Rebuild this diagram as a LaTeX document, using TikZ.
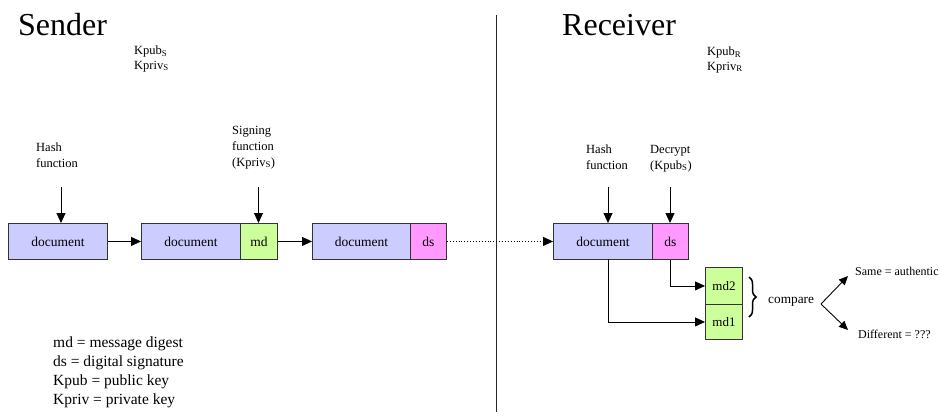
\documentclass[tikz,border=0pt]{standalone}
\usepackage{fontspec}
\setmainfont{Liberation Serif}
\usetikzlibrary{arrows.meta,decorations.pathreplacing}
\definecolor{docblue}{RGB}{204,204,255}
\definecolor{mdgreen}{RGB}{204,255,153}
\definecolor{dspink}{RGB}{255,153,255}
\begin{document}
\begin{tikzpicture}[x=1pt,y=-1pt,
 box/.style={draw=black!80, line width=0.9pt, minimum height=36pt, inner sep=0pt, anchor=north west, font=\fontsize{13.5}{15}\selectfont},
 docbox/.style={box, fill=docblue, minimum width=99pt},
 mdbox/.style={box, fill=mdgreen, minimum width=37pt},
 dsbox/.style={box, fill=dspink, minimum width=36pt},
 arr/.style={line width=0.9pt, -{Triangle[length=10pt,width=9pt]}},
 thinarr/.style={line width=0.9pt, -{Triangle[length=9pt,width=8pt]}},
 lbl/.style={align=left, anchor=base west, inner sep=0pt, font=\fontsize{12.5}{16}\selectfont},
 keys/.style={align=left, anchor=base west, inner sep=0pt, font=\fontsize{12.5}{14.5}\selectfont},
 title/.style={anchor=base west, inner sep=0pt, font=\fontsize{32}{36}\selectfont},
]
\useasboundingbox (0,0) rectangle (940,418);
% titles
\node[title] (sender) at (18,35) {Sender};
\node[title] (receiver) at (562,35) {Receiver};
\node[keys] (keysS) at (134,69) {Kpub\textsubscript{S}\\Kpriv\textsubscript{S}};
\node[keys] (keysR) at (707,70) {Kpub\textsubscript{R}\\Kpriv\textsubscript{R}};
% divider
\coordinate (divtop) at (496,15);
\coordinate (divbot) at (496,412);
\draw[line width=1pt, black!85] (divtop) -- (divbot);
% sender boxes
\node[docbox] (doc1) at (8,223) {document};
\node[docbox] (doc2) at (141,223) {document};
\node[mdbox, minimum width=37pt] (md) at (240,223) {md};
\node[docbox, minimum width=98pt] (doc3) at (312,223) {document};
\node[dsbox] (ds3) at (410,223) {ds};
% receiver boxes
\node[docbox] (doc4) at (553,223) {document};
\node[dsbox] (ds4) at (652,223) {ds};
\node[mdbox, minimum height=37pt, font=\fontsize{13}{15}\selectfont] (md2) at (705,267) {md2};
\node[mdbox, minimum height=35pt, font=\fontsize{13}{15}\selectfont] (md1) at (705,304) {md1};
% labels
\node[lbl] (hash1) at (36,167) {Hash\\function};
\node[lbl] (sign) at (232,166) {Signing\\function\\(Kpriv\textsubscript{S})};
\node[lbl] (hash2) at (586,169) {Hash\\function};
\node[lbl] (decr) at (650,169) {Decrypt\\(Kpub\textsubscript{S})};
\coordinate (h1s) at (61,187);
\coordinate (sgs) at (258.5,187);
\coordinate (h2s) at (608,187);
\coordinate (dcs) at (670,187);
\draw[arr] (h1s) -- (h1s |- doc1.north);
\draw[arr] (sgs) -- (sgs |- md.north);
\draw[arr] (h2s) -- (h2s |- doc4.north);
\draw[arr] (dcs) -- (dcs |- ds4.north);
% flow
\draw[arr] (doc1.east) -- (doc2.west);
\draw[arr] (md.east) -- (doc3.west);
\draw[line width=0.9pt, dotted, -{Triangle[length=10pt,width=9pt]}] (ds3.east) -- (doc4.west);
\coordinate (d4b) at (608,259);
\draw[arr] (ds4.south) |- (md2.west);
\draw[arr] (d4b) |- (md1.west);
% brace and compare
\draw[line width=1.5pt, decorate, decoration={brace, amplitude=7pt}] (749,277) -- (749,317);
\node[anchor=base west, inner sep=0pt, font=\fontsize{13.3}{15}\selectfont] (cmp) at (768,303) {compare};
\coordinate (fork) at (821,304);
\node[anchor=base west, inner sep=0pt, font=\fontsize{12}{14}\selectfont] (same) at (855,275) {Same = authentic};
\node[anchor=base west, inner sep=0pt, font=\fontsize{12}{14}\selectfont] (diff) at (858,338) {Different = ???};
\coordinate (sameEnd) at (848,276);
\coordinate (diffEnd) at (848,330);
\draw[thinarr] (fork) -- (sameEnd);
\draw[thinarr] (fork) -- (diffEnd);
% legend
\node[anchor=base west, align=left, inner sep=0pt, font=\fontsize{15.5}{19}\selectfont] (legend) at (53,404) {md = message digest\\ds = digital signature\\Kpub = public key\\Kpriv = private key};
\end{tikzpicture}
\end{document}
